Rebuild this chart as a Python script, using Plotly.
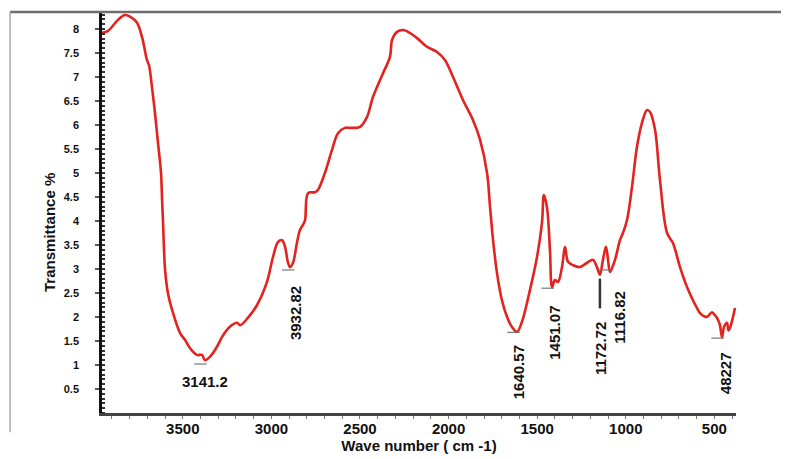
import plotly.graph_objects as go

# ---- data ----
wavenumber = [3956, 3922, 3866, 3826, 3787, 3758, 3730, 3702, 3691, 3674, 3657, 3640, 3623, 3617,
              3612, 3608, 3600, 3584, 3555, 3516, 3487, 3459, 3420, 3392, 3375, 3347, 3307, 3279,
              3236, 3194, 3177, 3133, 3081, 3025, 2991, 2963, 2940, 2923, 2906, 2895, 2878, 2856,
              2839, 2822, 2810, 2793, 2754, 2737, 2698, 2658, 2624, 2585, 2556, 2500, 2460, 2427,
              2370, 2331, 2319, 2291, 2257, 2229, 2178, 2122, 2065, 2020, 1975, 1919, 1862, 1823,
              1783, 1766, 1749, 1727, 1699, 1670, 1642, 1614, 1586, 1541, 1501, 1473, 1462, 1445,
              1428, 1416, 1400, 1383, 1360, 1343, 1326, 1298, 1258, 1219,
              1185, 1163, 1146, 1129, 1112, 1100, 1089, 1061, 1033, 1016, 993, 965, 937, 909, 880,
              863, 835, 807, 767, 734, 694, 655, 621, 600, 581, 560, 542, 514, 500, 485, 470, 457,
              445, 429, 420, 412, 395, 384]
transmittance = [7.92, 7.96, 8.19, 8.29, 8.23, 8.13, 7.83, 7.35, 7.25, 6.79, 6.25, 5.63, 5.00, 4.44,
                 4.02, 3.60, 2.98, 2.50, 2.08, 1.67, 1.52, 1.35, 1.21, 1.21, 1.10, 1.17, 1.38, 1.58,
                 1.79, 1.88, 1.83, 1.98, 2.25, 2.73, 3.25, 3.56, 3.60, 3.46, 3.13, 3.04, 3.13, 3.54,
                 3.81, 3.92, 4.02, 4.58, 4.60, 4.65, 5.00, 5.48, 5.83, 5.94, 5.94, 5.96, 6.17, 6.58,
                 7.08, 7.42, 7.77, 7.94, 7.98, 7.94, 7.81, 7.63, 7.52, 7.35, 7.00, 6.52, 6.10, 5.70,
                 5.00, 4.29, 3.60, 2.92, 2.35, 2.00, 1.79, 1.69, 1.90, 2.56, 3.25, 3.96, 4.54, 4.29,
                 3.40, 2.62, 2.77, 2.73, 3.04, 3.46, 3.15, 3.08, 3.04, 3.13,
                 3.19, 3.04, 2.88, 3.19, 3.46, 3.19, 2.94, 3.19, 3.60, 3.75, 4.02, 4.71, 5.54, 6.04,
                 6.31, 6.27, 5.90, 4.85, 3.75, 3.54, 3.04, 2.63, 2.35, 2.20, 2.08, 2.02, 2.00, 2.10,
                 2.05, 1.98, 1.85, 1.58, 1.80, 1.88, 1.72, 1.77, 2.00, 2.19]

peak_labels = ["3141.2", "3932.82", "1640.57", "1451.07", "1172.72", "1116.82", "48227"]
label_wn = [3375, 2867, 1608, 1400, 1146, 1040, 440]
label_t = [0.65, 2.08, 0.85, 1.67, 1.35, 2.00, 0.83]
label_angle = [0, -90, -90, -90, -90, -90, -90]

peak_wn = [3375, 2880, 1608, 1416, 1146, 1095, 457]
peak_t = [1.04, 3.00, 1.70, 2.62, 2.80, 3.00, 1.58]

y_ticks = [0.5, 1, 1.5, 2, 2.5, 3, 3.5, 4, 4.5, 5, 5.5, 6, 6.5, 7, 7.5, 8]
x_ticks = [3500, 3000, 2500, 2000, 1500, 1000, 500]

FONT = "Arial, Liberation Sans, sans-serif"

fig = go.Figure()
fig.add_trace(go.Scatter(x=wavenumber, y=transmittance, mode="lines",
                         line=dict(color="#e3231f", width=2.6), line_shape="spline",
                         hoverinfo="skip", showlegend=False))

# small peak markers
for i, (pw, pt) in enumerate(zip(peak_wn, peak_t)):
    if peak_labels[i] == "1172.72":
        fig.add_shape(type="line", x0=pw, x1=pw, y0=pt - 0.62, y1=pt,
                      line=dict(color="#333", width=2.5))
    else:
        fig.add_shape(type="line", x0=pw - 10, x1=pw + 60, y0=pt - 0.02, y1=pt - 0.02,
                      line=dict(color="#777", width=1.2))

for txt, lx, ly, ang in zip(peak_labels, label_wn, label_t, label_angle):
    fig.add_annotation(x=lx, y=ly, text=txt, showarrow=False, textangle=ang,
                       font=dict(family=FONT, size=15, color="#111", weight="bold"))

# y-axis title (placed as in the reference, slightly below centre)
fig.add_annotation(xref="paper", yref="paper", x=-0.082, y=0.449, text="Transmittance %",
                   showarrow=False, textangle=-90, xanchor="center", yanchor="middle",
                   font=dict(family=FONT, size=15, color="#111", weight="bold"))

# frame lines
fig.add_shape(type="line", xref="paper", yref="paper", x0=-0.145, x1=1.1, y0=1.0, y1=1.0,
              line=dict(color="#6e6e6e", width=2.5))
fig.add_shape(type="line", xref="paper", yref="paper", x0=-0.145, x1=-0.145, y0=1.0, y1=-0.048,
              line=dict(color="#aaaaaa", width=1.5))

# page body adds an 8px margin, so the figure is sized/shifted to compensate
fig.update_layout(
    width=781, height=451,
    margin=dict(l=94, r=53, t=4, b=46),
    paper_bgcolor="white", plot_bgcolor="white",
    font=dict(family=FONT, color="#111"),
    xaxis=dict(range=[3956, 378], tickvals=x_ticks, showgrid=False, zeroline=False,
               automargin=False,
               showline=True, linecolor="#444", linewidth=2.5,
               ticks="",
               minor=dict(dtick=100, ticks="outside", ticklen=3, tickcolor="#777", tickwidth=1),
               tickfont=dict(family=FONT, size=15, weight="bold", color="#111"),
               title=dict(text="Wave number ( cm -1)", standoff=1,
                          font=dict(family=FONT, size=15, weight="bold", color="#111"))),
    yaxis=dict(range=[0, 8.354], tickvals=y_ticks, showgrid=False, zeroline=False,
               automargin=False,
               showline=True, linecolor="#111", linewidth=2.5,
               ticks="outside", ticklen=4, tickwidth=1.5, tickcolor="#555",
               ticklabelstandoff=14,
               minor=dict(dtick=0.1, ticks="inside", ticklen=3, tickcolor="#333", tickwidth=1.5),
               tickfont=dict(family=FONT, size=11, weight="bold", color="#111")),
)

fig.write_html("out.html")
